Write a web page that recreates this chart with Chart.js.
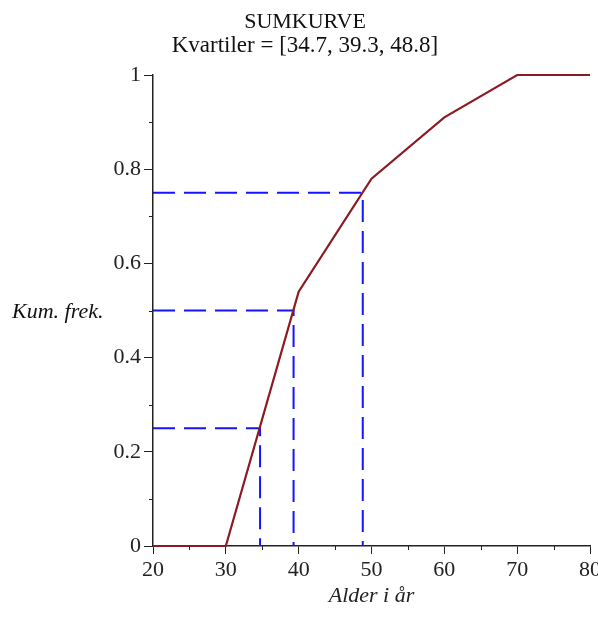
<!DOCTYPE html>
<html><head><meta charset="utf-8">
<script src="https://cdn.jsdelivr.net/npm/chart.js@4/dist/chart.umd.min.js"></script>
<style>html,body{margin:0;padding:0;background:#fff;overflow:hidden;width:598px;height:617px}</style>
</head><body>
<canvas id="c" width="620" height="617" style="width:620px;height:617px;display:block"></canvas>
<script>
const titleText = 'SUMKURVE';
const subtitleText = 'Kvartiler = [34.7, 39.3, 48.8]';
const xLabel = 'Alder i år';
const yLabel = 'Kum. frek.';
const ages = [20, 30, 40, 50, 60, 70, 80];
const cumFreq = [0, 0, 0.54, 0.78, 0.91, 1, 1];
const quartiles = [34.7, 39.3, 48.8];
const quartileLevels = [0.25, 0.5, 0.75];
const xTicks = [20, 30, 40, 50, 60, 70, 80];
const yTicks = [0, 0.2, 0.4, 0.6, 0.8, 1];
const yTickLabels = ['0', '0.2', '0.4', '0.6', '0.8', '1'];
const xMinorTicks = [25, 35, 45, 55, 65, 75];
const yMinorTicks = [0.1, 0.3, 0.5, 0.7, 0.9];

const SERIF = '"Liberation Serif", "Times New Roman", serif';
const AXIS = '#222';

const curve = {
  data: ages.map((a, i) => ({x: a, y: cumFreq[i]})),
  borderColor: '#8b1a22', borderWidth: 2.2, showLine: true, pointRadius: 0, tension: 0, clip: false
};
const qSets = quartiles.map((q, i) => ({
  data: [{x: xTicks[0], y: quartileLevels[i]}, {x: q, y: quartileLevels[i]}, {x: q, y: 0}],
  borderColor: '#1414ff', borderWidth: 2, borderDash: [22, 9], showLine: true, pointRadius: 0, tension: 0, clip: false
}));

const extras = {
  id: 'extras',
  afterDraw(chart) {
    const ctx = chart.ctx;
    const xs = chart.scales.x, ys = chart.scales.y;
    ctx.save();
    ctx.strokeStyle = AXIS; ctx.lineWidth = 1;
    xMinorTicks.forEach(v => {
      const p = Math.round(xs.getPixelForValue(v)) + 0.5;
      ctx.beginPath(); ctx.moveTo(p, xs.top); ctx.lineTo(p, xs.top + 4); ctx.stroke();
    });
    yMinorTicks.forEach(v => {
      const p = Math.round(ys.getPixelForValue(v)) + 0.5;
      ctx.beginPath(); ctx.moveTo(ys.right - 4, p); ctx.lineTo(ys.right, p); ctx.stroke();
    });
    ctx.fillStyle = '#111';
    ctx.textAlign = 'center'; ctx.textBaseline = 'middle';
    ctx.font = '22px ' + SERIF;
    ctx.fillText(titleText, 305, 22);
    ctx.font = '23px ' + SERIF;
    ctx.fillText(subtitleText, 305, 46);
    ctx.textAlign = 'left';
    ctx.font = 'italic 22px ' + SERIF;
    ctx.fillText(yLabel, 12, (chart.chartArea.top + chart.chartArea.bottom) / 2 + 2);
    ctx.restore();
  }
};

new Chart(document.getElementById('c'), {
  type: 'scatter',
  data: {datasets: [curve, ...qSets]},
  options: {
    responsive: false, animation: false,
    layout: {padding: {top: 75, right: 30, left: 0, bottom: 0}},
    plugins: {legend: {display: false}, tooltip: {enabled: false}},
    scales: {
      x: {
        type: 'linear', min: 20, max: 80,
        afterBuildTicks: s => { s.ticks = xTicks.map(v => ({value: v})); },
        afterFit: s => { s.height = 71; },
        grid: {drawOnChartArea: false, drawTicks: true, tickLength: 8, tickColor: AXIS, tickWidth: 1},
        border: {display: true, color: AXIS, width: 1.5},
        ticks: {font: {family: SERIF, size: 22}, color: '#222', padding: 3, maxRotation: 0, autoSkip: false},
        title: {display: true, text: xLabel, font: {family: SERIF, size: 22, style: 'italic'}, color: '#222', padding: {top: 0, bottom: 8}}
      },
      y: {
        type: 'linear', min: 0, max: 1,
        afterBuildTicks: s => { s.ticks = yTicks.map(v => ({value: v})); },
        afterFit: s => { s.width = 153; },
        grid: {drawOnChartArea: false, drawTicks: true, tickLength: 9, tickColor: AXIS, tickWidth: 1},
        border: {display: true, color: AXIS, width: 1.5},
        ticks: {font: {family: SERIF, size: 22}, color: '#222', padding: 3, autoSkip: false,
          callback: (v, i) => yTickLabels[i]}
      }
    }
  },
  plugins: [extras]
});
</script>
</body></html>
